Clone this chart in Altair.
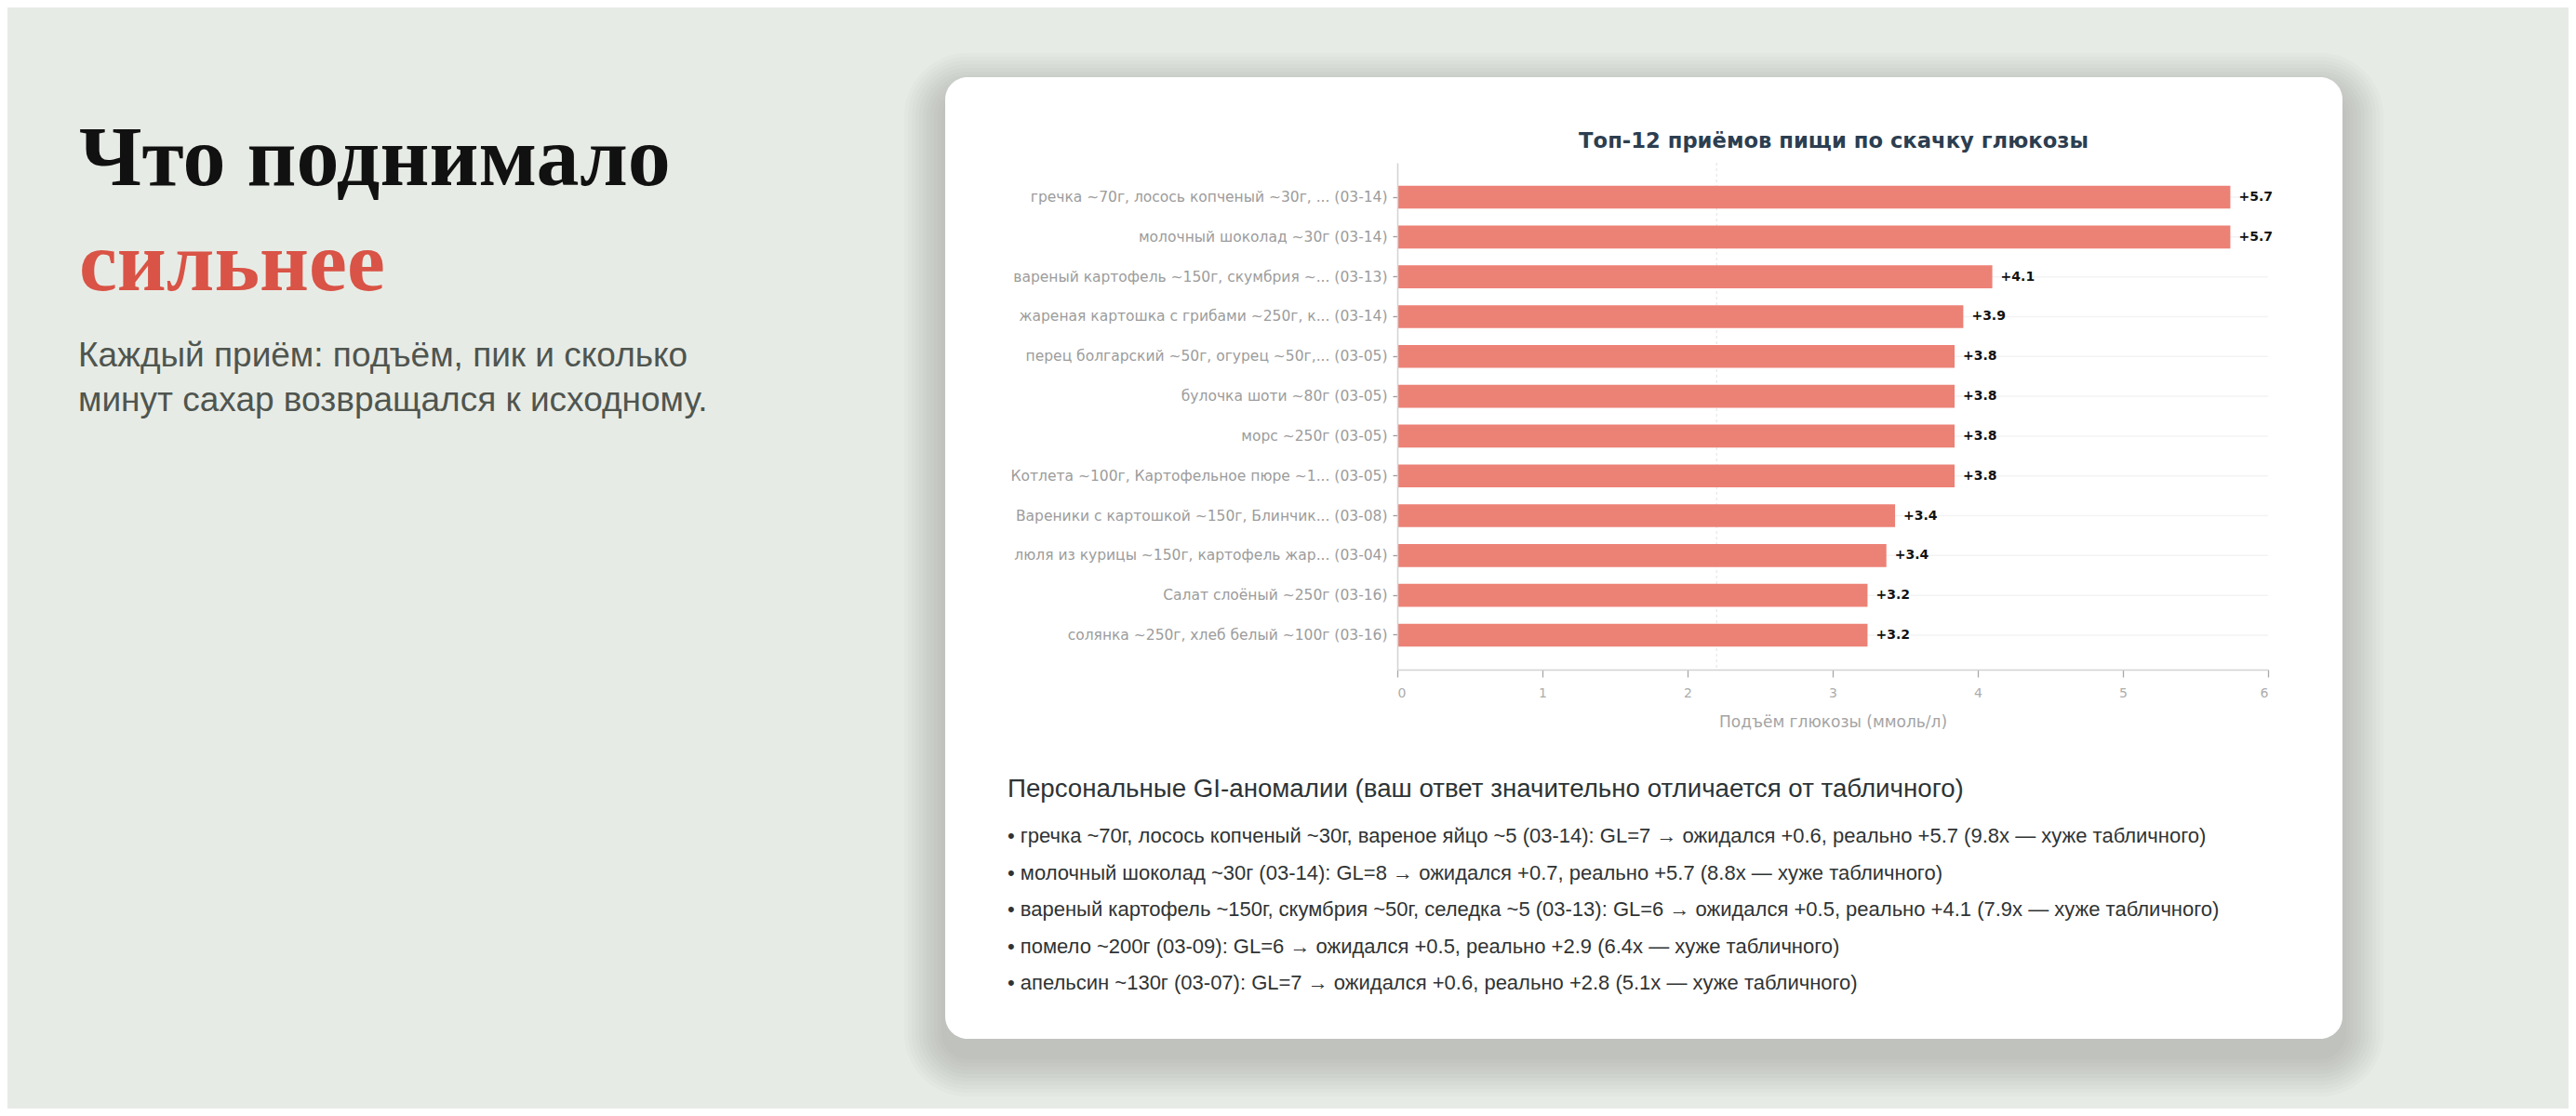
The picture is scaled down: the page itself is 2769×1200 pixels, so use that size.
import altair as alt
import pandas as pd

# ---------------- data ----------------
meals = [
    "гречка ~70г, лосось копченый ~30г, ... (03-14)",
    "молочный шоколад ~30г (03-14)",
    "вареный картофель ~150г, скумбрия ~... (03-13)",
    "жареная картошка с грибами ~250г, к... (03-14)",
    "перец болгарский ~50г, огурец ~50г,... (03-05)",
    "булочка шоти ~80г (03-05)",
    "морс ~250г (03-05)",
    "Котлета ~100г, Картофельное пюре ~1... (03-05)",
    "Вареники с картошкой ~150г, Блинчик... (03-08)",
    "люля из курицы ~150г, картофель жар... (03-04)",
    "Салат слоёный ~250г (03-16)",
    "солянка ~250г, хлеб белый ~100г (03-16)",
]
rise = [5.74, 5.74, 4.10, 3.90, 3.84, 3.84, 3.84, 3.84, 3.43, 3.37, 3.24, 3.24]
x_ticks = [0, 1, 2, 3, 4, 5, 6]
ref_line = [2.2]

headline_1 = "Что поднимало"
headline_2 = "сильнее"
subtitle_lines = ["Каждый приём: подъём, пик и сколько", "минут сахар возвращался к исходному."]
chart_title = "Топ-12 приёмов пищи по скачку глюкозы"
x_title = "Подъём глюкозы (ммоль/л)"
anomaly_title = "Персональные GI-аномалии (ваш ответ значительно отличается от табличного)"
anomaly_lines = [
    "• гречка ~70г, лосось копченый ~30г, вареное яйцо ~5 (03-14): GL=7 → ожидался +0.6, реально +5.7 (9.8x — хуже табличного)",
    "• молочный шоколад ~30г (03-14): GL=8 → ожидался +0.7, реально +5.7 (8.8x — хуже табличного)",
    "• вареный картофель ~150г, скумбрия ~50г, селедка ~5 (03-13): GL=6 → ожидался +0.5, реально +4.1 (7.9x — хуже табличного)",
    "• помело ~200г (03-09): GL=6 → ожидался +0.5, реально +2.9 (6.4x — хуже табличного)",
    "• апельсин ~130г (03-07): GL=7 → ожидался +0.6, реально +2.8 (5.1x — хуже табличного)",
]

df = pd.DataFrame({"meal": meals, "rise": rise})
one = pd.DataFrame({"k": [0]})

# ---------------- layout (page pixels) ----------------
PLOT_L, PLOT_T = 1502, 175
W, H = 936, 545
CANVAS_W, CANVAS_H = 2753, 1184


def px(x):
    return x - PLOT_L


def py(y):
    return y - PLOT_T


def box(x0, y0, x1, y1, **kw):
    return alt.Chart(one).mark_rect(**kw).encode(
        x=alt.value(px(x0)), x2=alt.value(px(x1)),
        y=alt.value(py(y0)), y2=alt.value(py(y1)),
    )


def label(text, x, y, **kw):
    return alt.Chart(one).mark_text(text=text, **kw).encode(
        x=alt.value(px(x)), y=alt.value(py(y))
    )


# card shadow + card
CARD = (1016, 83, 2518, 1117)
shadows = []
for i in range(1, 12):
    e = i * 4
    shadows.append(
        box(CARD[0] - e, CARD[1] - e + 18, CARD[2] + e, CARD[3] + e + 18,
            fill="#3d4a38", opacity=0.019, cornerRadius=24 + e)
    )
card = box(*CARD, fill="#ffffff", cornerRadius=24)

y_enc = alt.Y(
    "meal:N", sort=meals,
    scale=alt.Scale(paddingInner=0.425, paddingOuter=0.577),
    axis=alt.Axis(
        title=None, labelFont="DejaVu Sans", labelFontSize=15.5, labelColor="#9c9c9c",
        labelLimit=460, labelPadding=6, tickColor="#9a9a9a", tickSize=5, tickWidth=1.3,
        domainColor="#d2d2d2", domainWidth=1.5, grid=False, bandPosition=0.5, zindex=1,
    ),
)
x_enc = alt.X(
    "rise:Q", scale=alt.Scale(domain=[0, 6], nice=False, zero=True),
    axis=alt.Axis(
        values=x_ticks, format="d", title=x_title, grid=False,
        labelFont="DejaVu Sans", labelFontSize=14, labelColor="#acacac", labelPadding=10,
        tickColor="#a8a8a8", tickSize=8, tickWidth=1.3,
        domainColor="#d2d2d2", domainWidth=1.5,
        titleFont="DejaVu Sans", titleFontSize=17, titleFontWeight="normal",
        titleColor="#a4a4a4", titlePadding=16, zindex=1,
    ),
)

grid = alt.Chart(df).mark_rule(color="#f3f3f3", strokeWidth=1.5).encode(
    y=alt.Y("meal:N", sort=meals), x=alt.value(0), x2=alt.value(W)
)
ref = alt.Chart(pd.DataFrame({"v": ref_line})).mark_rule(
    color="#e2e2e2", strokeDash=[3, 3], strokeWidth=1
).encode(x=alt.X("v:Q"))

bars = alt.Chart(df).mark_bar(color="#ec8176").encode(x=x_enc, y=y_enc)
values = alt.Chart(df).mark_text(
    align="left", baseline="middle", dx=9, font="DejaVu Sans", fontSize=14,
    fontWeight="bold", color="#111111",
).encode(x="rise:Q", y=alt.Y("meal:N", sort=meals), text=alt.Text("rise:Q", format="+.1f"))

texts = [
    label(headline_1, 85, 199, align="left", baseline="alphabetic",
          font="Liberation Serif", fontSize=92, fontWeight="bold", color="#111111"),
    label(headline_2, 85, 312, align="left", baseline="alphabetic",
          font="Liberation Serif", fontSize=92, fontWeight="bold", color="#d95346"),
    label(subtitle_lines, 84, 394, align="left", baseline="alphabetic", lineHeight=48,
          font="Liberation Sans", fontSize=37, color="#4f554f"),
    label(chart_title, 1971, 159, align="center", baseline="alphabetic",
          font="DejaVu Sans", fontSize=22.7, fontWeight="bold", color="#2c3e50"),
    label(anomaly_title, 1083, 857, align="left", baseline="alphabetic",
          font="Liberation Sans", fontSize=27.7, color="#2d3436"),
    label(anomaly_lines, 1083, 906, align="left", baseline="alphabetic", lineHeight=39.6,
          font="Liberation Sans", fontSize=22, color="#2f3333"),
]

chart = alt.layer(*shadows, card, grid, ref, bars, values, *texts).properties(
    width=W, height=H,
    autosize=alt.AutoSizeParams(type="none"),
    padding={"left": PLOT_L - 8, "top": PLOT_T - 8,
             "right": CANVAS_W - (PLOT_L - 8) - W, "bottom": CANVAS_H - (PLOT_T - 8) - H},
    background="#e7ebe5",
).configure_view(stroke=None)

chart.save("out.html", embed_options={"renderer": "svg", "actions": False})
